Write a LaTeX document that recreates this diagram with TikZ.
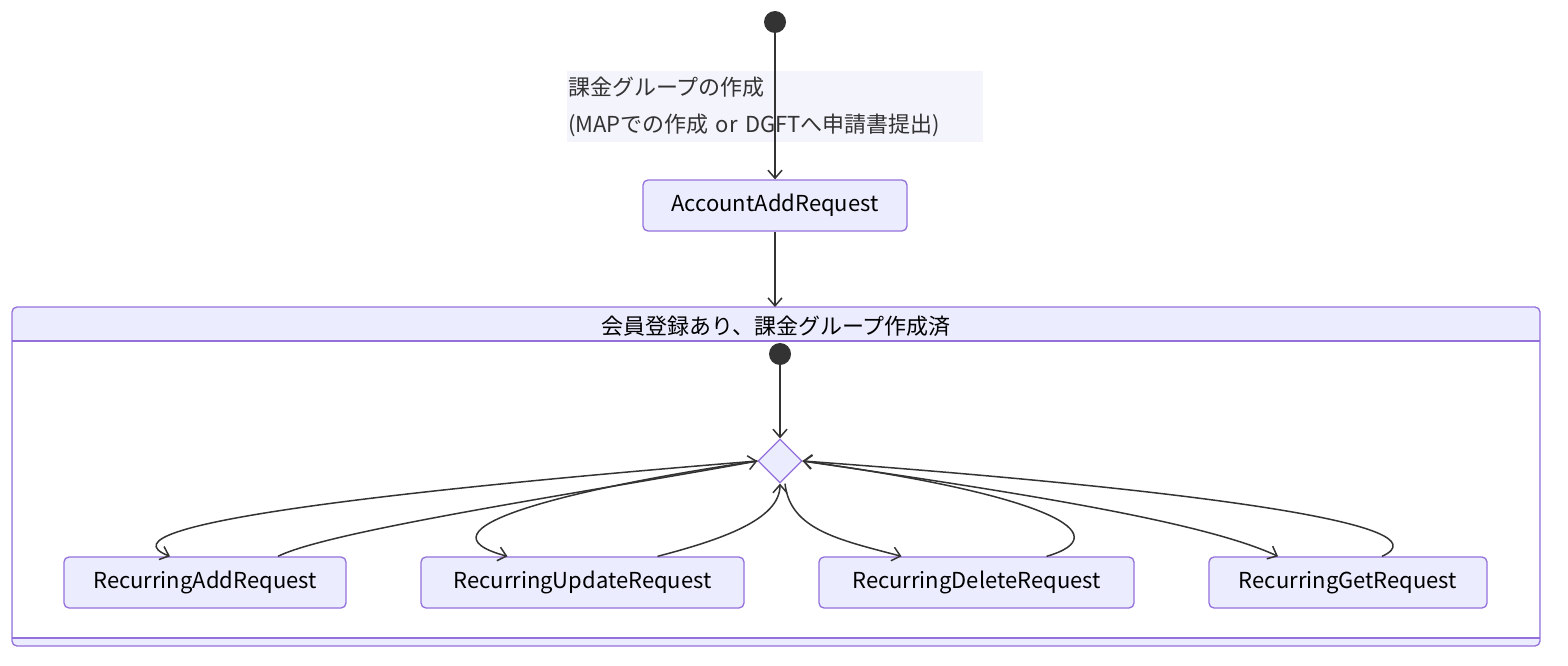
\documentclass[tikz,border=0pt]{standalone}
\usepackage{fontspec}
\setmainfont{Noto Sans CJK JP}
\usetikzlibrary{shapes.geometric,arrows.meta}
\definecolor{statefill}{HTML}{ECECFF}
\definecolor{stateline}{HTML}{9370DB}
\definecolor{labelfill}{HTML}{F4F4FD}
\definecolor{ink}{HTML}{333333}
\tikzset{
  state/.style={draw=stateline, line width=1.3pt, fill=statefill, rounded corners=5pt, minimum height=51pt, inner xsep=10pt, font=\fontsize{22}{26}\selectfont, text=black},
  start/.style={circle, fill=ink, minimum size=22pt, inner sep=0pt},
  choice/.style={diamond, draw=stateline, line width=1.3pt, fill=statefill, minimum size=44pt, inner sep=0pt},
  flow/.style={draw=ink, line width=1.5pt, -{Straight Barb[length=8pt,width=14pt]}},
}
\begin{document}
\begin{tikzpicture}[x=1pt,y=-1pt]
\useasboundingbox (0,0) rectangle (1568,666);
% outer composite state
\draw[stateline, line width=1.3pt, fill=statefill, rounded corners=5pt] (12,307) rectangle (1540,646);
\fill[white] (13,341) rectangle (1539,638);
\draw[stateline, line width=1.3pt] (12,341) -- (1540,341);
\draw[stateline, line width=1.3pt] (12,638) -- (1540,638);
\node (title) at (776,326) {\fontsize{22}{26}\selectfont 会員登録あり、課金グループ作成済};

\node[start] (s0) at (775,22) {};
\node[state, minimum width=264pt] (acc) at (775,205.5) {AccountAddRequest};
\node[fill=labelfill, text=ink, align=left, minimum width=416pt, minimum height=71pt, inner xsep=1pt, text width=414pt, font=\fontsize{22}{37}\selectfont] (lbl) at (775,106.5) {課金グループの作成\\(MAPでの作成 or DGFTへ申請書提出)};
\draw[flow] (s0) -- (acc);
\coordinate (comp) at (775,307);
\draw[flow] (acc) -- (comp);

% inner states
\node[start] (s1) at (780,354) {};
\node[choice] (ch) at (780,461) {};
\draw[flow] (s1) -- (ch);
\node[state, minimum width=282pt] (add) at (205,582.5) {RecurringAddRequest};
\node[state, minimum width=323pt] (upd) at (582.5,582.5) {RecurringUpdateRequest};
\node[state, minimum width=315pt] (del) at (976.5,582.5) {RecurringDeleteRequest};
\node[state, minimum width=278pt] (get) at (1348,582.5) {RecurringGetRequest};

% transitions
\draw[flow] (ch.west) .. controls (400,490) and (90,525) .. ([xshift=-35pt]add.north);
\draw[flow] ([xshift=73pt]add.north) .. controls (330,530) and (600,490) .. (ch.west);
\draw[flow] (ch.west) .. controls (560,490) and (410,530) .. ([xshift=-75pt]upd.north);
\draw[flow] ([xshift=75pt]upd.north) .. controls (720,540) and (780,520) .. (ch.south);
\draw[flow] ([xshift=5pt]ch.south) .. controls (790,530) and (840,540) .. ([xshift=-75pt]del.north);
\draw[flow] ([xshift=70pt]del.north) .. controls (1120,535) and (1050,495) .. (ch.east);
\draw[flow] (ch.east) .. controls (1000,490) and (1200,520) .. ([xshift=-70pt]get.north);
\draw[flow] ([xshift=34pt]get.north) .. controls (1450,525) and (1200,490) .. (ch.east);
\end{tikzpicture}
\end{document}
